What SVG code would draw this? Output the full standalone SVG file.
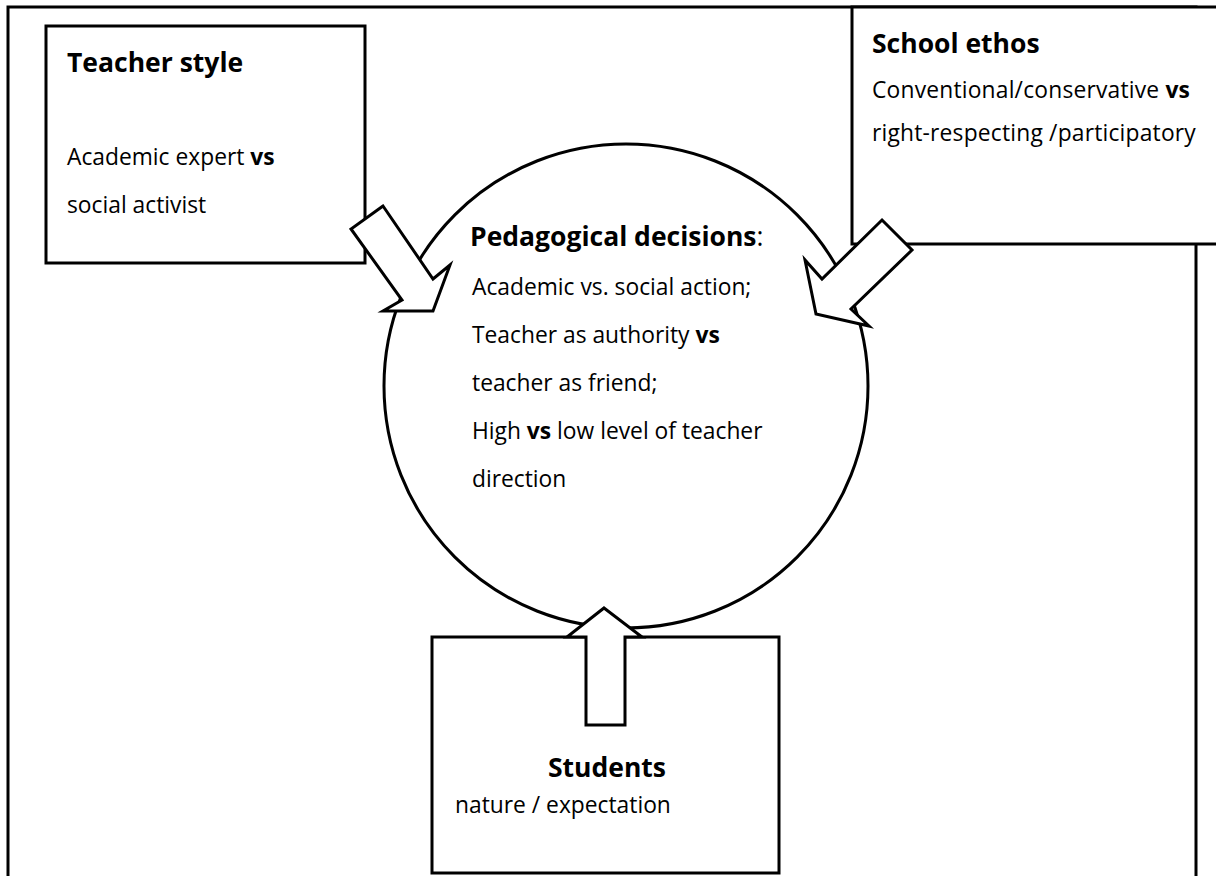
<svg xmlns="http://www.w3.org/2000/svg" width="1216" height="876" viewBox="0 0 1216 876">
<style>
.box{fill:#fff;stroke:#000;stroke-width:3}
.arrow{fill:#fff;stroke:#000;stroke-width:3;stroke-linejoin:miter}
.h{font-family:"Open Sans","Noto Sans","Liberation Sans",sans-serif;font-weight:bold;font-size:26.5px;fill:#000}
.t{font-family:"Open Sans","Noto Sans","Liberation Sans",sans-serif;font-size:22.8px;fill:#000}
.b{font-weight:bold}
</style>
<rect width="1216" height="876" fill="#fff"/>
<g id="frame"><rect class="box" x="8" y="7" width="1188" height="900"/></g>
<g id="pedagogical-decisions">
<circle class="box" cx="626" cy="386" r="242"/>
<text class="h" x="470" y="246">Pedagogical decisions<tspan font-weight="normal">:</tspan></text>
<text class="t" x="472" y="295">Academic vs. social action;</text>
<text class="t" x="472" y="343">Teacher as authority <tspan class="b">vs</tspan></text>
<text class="t" x="472" y="391">teacher as friend;</text>
<text class="t" x="472" y="439">High <tspan class="b">vs</tspan> low level of teacher</text>
<text class="t" x="472" y="487">direction</text>
</g>
<g id="teacher-style">
<rect class="box" x="46" y="26" width="319" height="237"/>
<text class="h" x="67" y="72">Teacher style</text>
<text class="t" x="67" y="165">Academic expert <tspan class="b">vs</tspan></text>
<text class="t" x="67" y="213">social activist</text>
</g>
<g id="school-ethos">
<rect class="box" x="852" y="7" width="400" height="237"/>
<text class="h" x="872" y="53">School ethos</text>
<text class="t" x="872" y="98" letter-spacing="0.2">Conventional/conservative <tspan class="b">vs</tspan></text>
<text class="t" x="872" y="141" letter-spacing="0.2">right-respecting /participatory</text>
</g>
<g id="students">
<rect class="box" x="432" y="637" width="347" height="236"/>
<text class="h" x="607" y="777" text-anchor="middle">Students</text>
<text class="t" x="455" y="813">nature / expectation</text>
</g>
<g id="connectors">
<polygon class="arrow" points="383,206 351,229 402,300 383,311 433,311 450,265 433,279"/>
<polygon class="arrow" points="882,220 912,250 851,309 869,326 816,314 805,260 822,279"/>
<polygon class="arrow" points="604,608 642,637 625,637 625,725 586,725 586,637 567,637"/>
</g>
</svg>
